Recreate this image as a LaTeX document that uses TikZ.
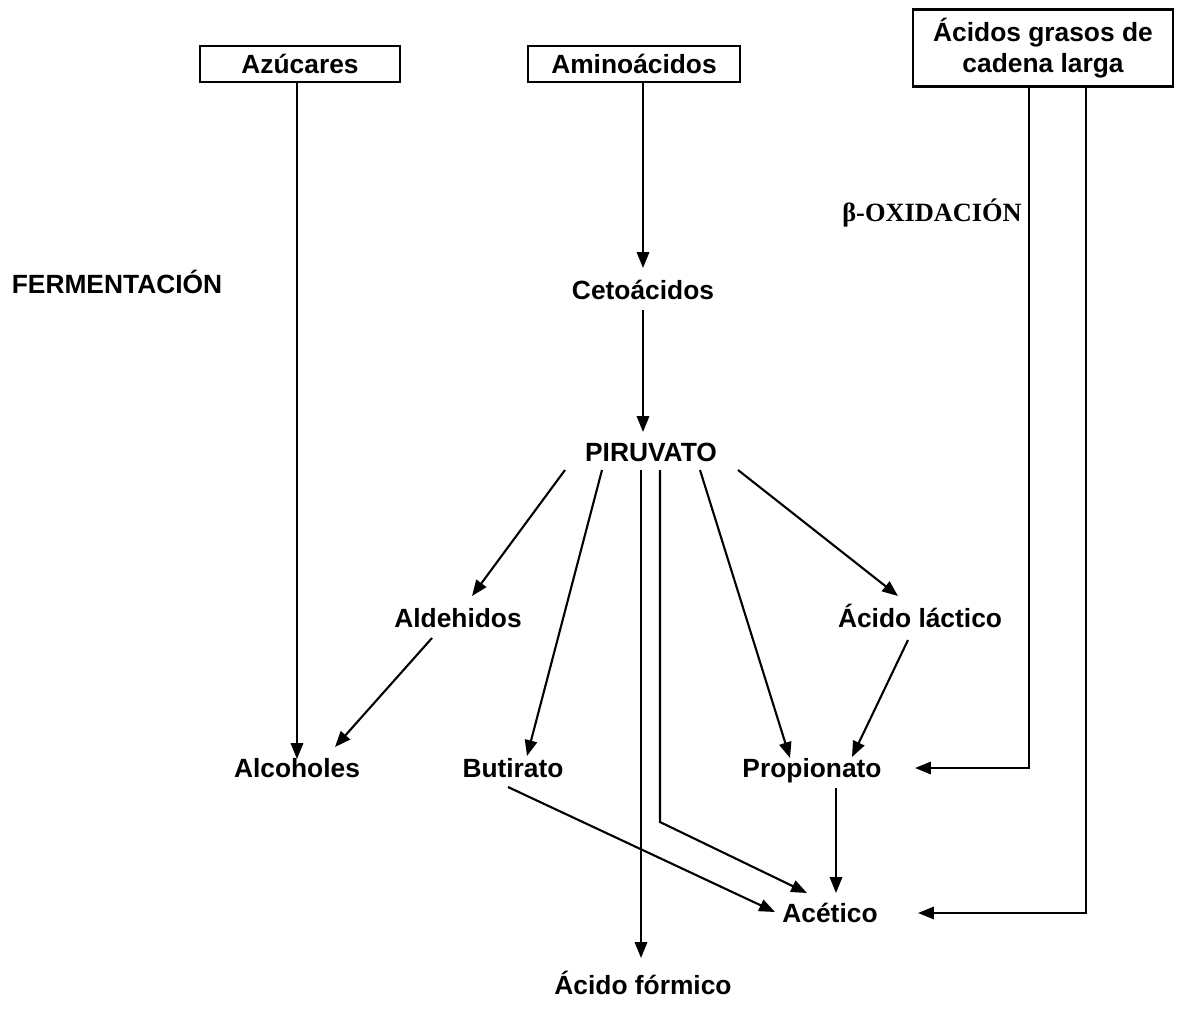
\documentclass[tikz,border=0pt]{standalone}
\usepackage{fontspec}
\setmainfont{Liberation Sans}
\newfontfamily\timesfont{Liberation Serif}
\usetikzlibrary{arrows.meta, calc}
\tikzset{
    >={Triangle[length=9pt, width=7pt]}, % filled arrow heads
    flow/.style={->, line width=1.2pt}, % every connector
    base/.style={font=\fontsize{15}{17.5}\selectfont\bfseries, inner sep=2pt}, % bold sans text
    compound/.style={base, text height=10.8pt, text depth=0pt}, % one-line labels, centred on the capitals
    source/.style={compound, draw, line width=1.2pt, minimum height=0.72cm}, % boxed inputs
}

\begin{document}
\begin{tikzpicture}[x=0.02cm, y=-0.02cm]
    \useasboundingbox (0,0) rectangle (1179,1018);

    % inputs
    \node[source, minimum width=4cm] (azu) at (300,64) {Azúcares};
    \node[source, minimum width=4.24cm] (ami) at (634,64) {Aminoácidos};
    \node[base, draw, line width=1.2pt, minimum width=5.2cm, minimum height=1.54cm, align=center] (acg) at (1043,48) {Ácidos grasos de\\cadena larga};

    % side labels
    \node[compound] (ferm) at (117,284) {FERMENTACIÓN};
    \node[compound, font=\timesfont\fontsize{15}{17}\selectfont\bfseries] (boxi) at (932,212) {β-OXIDACIÓN};

    % intermediates and products
    \node[compound] (ceto) at (643,290) {Cetoácidos};
    \node[compound] (piru) at (651,452) {PIRUVATO};
    \node[compound] (ald) at (458,618) {Aldehidos};
    \node[compound] (lac) at (920,618) {Ácido láctico};
    \node[compound] (alc) at (297,768) {Alcoholes};
    \node[compound] (but) at (513,768) {Butirato};
    \node[compound] (prop) at (812,768) {Propionato};
    \node[compound] (acet) at (830,913) {Acético};
    \node[compound] (form) at (643,985) {Ácido fórmico};

    % connectors
    \draw[flow] ($(azu.south)+(-3,0)$) -- ($(alc)+(0,-9)$);
    \draw[flow] ($(ami.south)+(9,0)$) -- ($(ceto)+(0,-22)$);
    \draw[flow] ($(ceto)+(0,20)$) -- ($(piru)+(-8,-20)$);
    \draw[flow] ($(piru)+(-86,18)$) -- ($(ald)+(14,-22)$);
    \draw[flow] ($(piru)+(-49,18)$) -- ($(but)+(14,-12)$);
    \draw[flow] ($(piru)+(-10,18)$) -- ($(form)+(-2,-27)$);
    \draw[flow] ($(piru)+(9,18)$) -- ++(0,352) -- ($(acet)+(-23,-20)$);
    \draw[flow] ($(piru)+(49,18)$) -- ($(prop)+(-22,-10)$);
    \draw[flow] ($(piru)+(87,18)$) -- ($(lac)+(-22,-22)$);
    \draw[flow] ($(ald)+(-26,20)$) -- ($(alc)+(38,-21)$);
    \draw[flow] ($(lac)+(-12,22)$) -- ($(prop)+(40,-11)$);
    \draw[flow] ($(prop)+(24,20)$) -- ($(acet)+(6,-20)$);
    \draw[flow] ($(but)+(-5,19)$) -- ($(acet)+(-55,-1)$);
    \draw[flow] ($(acg.south)+(-14,0)$) |- ($(prop)+(103,0)$);
    \draw[flow] ($(acg.south)+(43,0)$) |- ($(acet)+(88,0)$);
\end{tikzpicture}
\end{document}
